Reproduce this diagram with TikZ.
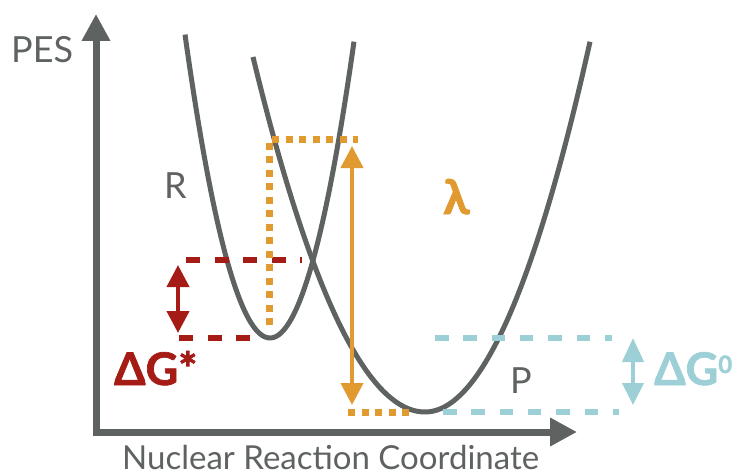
\documentclass[tikz,border=0pt]{standalone}
\usepackage{fontspec}
\setmainfont{Lato}
\newfontfamily\heavyfont[BoldFeatures={FakeBold=1.6}]{Lato}
\usetikzlibrary{arrows.meta}
\definecolor{axisgray}{HTML}{5E6260}
\definecolor{dred}{HTML}{A51C16}
\definecolor{orng}{HTML}{E09A2F}
\definecolor{lblue}{HTML}{9DCFD6}
\begin{document}
\begin{tikzpicture}[x=1pt,y=-1pt,
  axisline/.style={draw=axisgray,line width=7pt,-{Triangle[length=27pt,width=27pt]}},
  curve/.style={draw=axisgray,line width=5pt},
  reddash/.style={draw=dred,line width=6pt,dash pattern=on 14pt off 14.5pt},
  bluedash/.style={draw=lblue,line width=6pt,dash pattern=on 13.5pt off 14.8pt},
  orgdot/.style={draw=orng,line width=7pt,dash pattern=on 7pt off 6.5pt},
  dbl/.style={line width=4pt,{Triangle[length=22pt,width=22pt]}-{Triangle[length=22pt,width=22pt]}},
  lbl/.style={inner sep=0pt,anchor=base west,text=axisgray,font=\fontsize{36}{36}\selectfont},
  biglbl/.style={inner sep=0pt,anchor=base west,font=\heavyfont\fontsize{45}{45}\selectfont\bfseries}]
\useasboundingbox (0,0) rectangle (741,476);
% axes
\coordinate (O) at (96,432);
\coordinate (ytop) at (96,14);
\coordinate (xend) at (577,432);
\draw[axisline] (96,435.5) -- (ytop);
\draw[axisline] (92.5,432) -- (xend);
% curves
\draw[curve] plot[domain=185:354,samples=80] (\x,{338-4.2*((\x-270)/10)^2});
\draw[curve] plot[domain=253:590,samples=120] (\x,{412-ifthenelse(\x<425,1.2,1.36)*((\x-425)/10)^2});
% red dashed lines and arrow
\coordinate (r1a) at (186,260); \coordinate (r1b) at (302,260);
\coordinate (r2a) at (179,338); \coordinate (r2b) at (251,338);
\draw[reddash] (r1a) -- (r1b);
\draw[reddash] (r2a) -- (r2b);
\coordinate (ra) at (178,265); \coordinate (rb) at (178,333);
\draw[dbl,draw=dred,fill=dred] (ra) -- (rb);
% orange dotted lines and arrow
\coordinate (o1) at (269,325); \coordinate (o2) at (269,139); \coordinate (o3) at (358,139);
\draw[orgdot] (o1) -- (o2) -- (o3);
\coordinate (o4) at (348,412); \coordinate (o5) at (412,412);
\draw[orgdot] (o4) -- (o5);
\coordinate (oa) at (352,146); \coordinate (ob) at (352,405);
\draw[dbl,draw=orng,fill=orng] (oa) -- (ob);
% blue dashed lines and arrow
\coordinate (b1a) at (435,338); \coordinate (b1b) at (612,338);
\coordinate (b2a) at (443,412); \coordinate (b2b) at (619,412);
\draw[bluedash] (b1a) -- (b1b);
\draw[bluedash] (b2a) -- (b2b);
\coordinate (ba) at (633,338); \coordinate (bb) at (633,405);
\draw[dbl,draw=lblue,fill=lblue,{Triangle[length=24pt,width=21pt]}-{Triangle[length=22pt,width=21pt]}] (ba) -- (bb);
% labels
\node[lbl] (pes) at (11,63) {PES};
\node[lbl] (R) at (164,198) {R};
\node[lbl] (P) at (510,393) {P};
\node[lbl,font=\fontsize{33}{34}\selectfont] (xl) at (122,469.5) {Nuclear Reaction Coordinate};
\node[biglbl,text=orng,font=\heavyfont\fontsize{48}{48}\selectfont\bfseries] (lam) at (443,214) {λ};
\node[biglbl,text=dred] (dgs) at (114,385) {ΔG*};
\node[biglbl,text=lblue] (dg0) at (654,385) {ΔG\raisebox{12pt}{\fontsize{24}{24}\selectfont 0}};
\end{tikzpicture}
\end{document}
